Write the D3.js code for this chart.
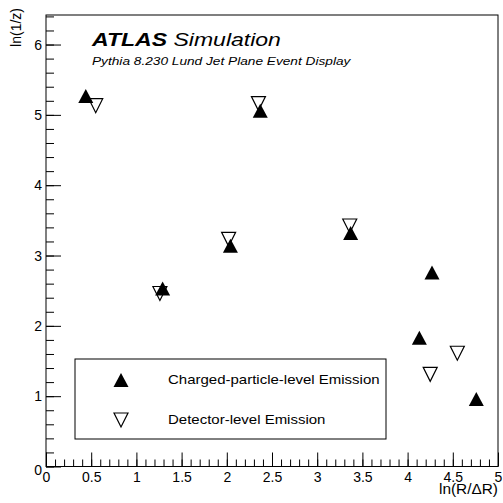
<!DOCTYPE html>
<html>
<head>
<meta charset="utf-8">
<script src="https://cdn.jsdelivr.net/npm/d3@7"></script>
<style>
  body { margin: 0; background: #fff; }
  text { font-family: "Liberation Sans", Arial, Helvetica, sans-serif; fill: #000; }
</style>
</head>
<body>
<svg width="503" height="503"></svg>
<script>
// charged-particle-level emissions (filled triangles up)
var chargedX = [0.44, 1.29, 2.04, 2.37, 3.37, 4.13, 4.27, 4.76];
var chargedY = [5.27, 2.53, 3.14, 5.06, 3.32, 1.83, 2.76, 0.96];
// detector-level emissions (open triangles down)
var detX = [0.55, 1.26, 2.02, 2.35, 3.36, 4.25, 4.55];
var detY = [5.13, 2.46, 3.23, 5.16, 3.42, 1.31, 1.61];

var xTicks = [0, 0.5, 1, 1.5, 2, 2.5, 3, 3.5, 4, 4.5, 5];
var yTicks = [0, 1, 2, 3, 4, 5, 6];
var legendLabels = ["Charged-particle-level Emission", "Detector-level Emission"];

var svg = d3.select("svg"),
    fL = 46, fR = 498, fT = 15, fB = 466.5;

var x = d3.scaleLinear().domain([0, 5]).range([fL, fR]);
var y = d3.scaleLinear().domain([0, 6.42]).range([fB, fT]);

var fmt = function(d) { return String(d); };

// minor ticks
svg.append("g")
    .attr("transform", "translate(0," + fB + ")")
    .call(d3.axisBottom(x).tickValues(d3.range(0, 50).map(function(i) { return i / 10; }))
        .tickSizeInner(-7).tickSizeOuter(0).tickFormat(""))
    .call(function(g) { g.select(".domain").remove(); });

svg.append("g")
    .attr("transform", "translate(" + fL + ",0)")
    .call(d3.axisLeft(y).tickValues(d3.range(0, 33).map(function(i) { return i / 5; }))
        .tickSizeInner(-8).tickSizeOuter(0).tickFormat(""))
    .call(function(g) { g.select(".domain").remove(); });

// major ticks + labels
var xa = svg.append("g")
    .attr("transform", "translate(0," + fB + ")")
    .call(d3.axisBottom(x).tickValues(xTicks).tickSizeInner(-14).tickSizeOuter(0)
        .tickPadding(6).tickFormat(fmt));
xa.select(".domain").remove();
xa.selectAll("text").attr("font-size", 14).attr("font-family", "Liberation Sans, Arial, sans-serif");

var ya = svg.append("g")
    .attr("transform", "translate(" + fL + ",0)")
    .call(d3.axisLeft(y).tickValues(yTicks).tickSizeInner(-15).tickSizeOuter(0)
        .tickPadding(4).tickFormat(fmt));
ya.select(".domain").remove();
ya.selectAll("text").attr("font-size", 14).attr("font-family", "Liberation Sans, Arial, sans-serif");
ya.selectAll(".tick").filter(function(d) { return d === 0; }).select("text").attr("dy", "0.6em");

svg.selectAll(".tick line").attr("stroke", "#000");

// frame
svg.append("rect")
    .attr("x", fL).attr("y", fT)
    .attr("width", fR - fL).attr("height", fB - fT)
    .attr("fill", "none").attr("stroke", "#000").attr("stroke-width", 1);

// axis titles
svg.append("text")
    .attr("transform", "translate(" + fR + ",494) scale(1.1,1)")
    .attr("text-anchor", "end")
    .attr("font-size", 14)
    .text("ln(R/\u0394R)");

svg.append("text")
    .attr("transform", "translate(21," + (fT - 7) + ") rotate(-90)")
    .attr("text-anchor", "end")
    .attr("font-size", 14)
    .text("ln(1/z)");

// ATLAS label
var t = svg.append("text")
    .attr("transform", "translate(92,46) scale(1.28,1)")
    .attr("font-size", 18);
t.append("tspan").attr("font-weight", "bold").attr("font-style", "italic").text("ATLAS");
t.append("tspan").attr("font-style", "italic").text(" Simulation");

svg.append("text")
    .attr("transform", "translate(92,65) scale(1.19,1)")
    .attr("font-size", 11.5)
    .attr("font-style", "italic")
    .text("Pythia 8.230 Lund Jet Plane Event Display");

function triUp(cx, cy) {
  return "M" + (cx - 7.5) + "," + (cy + 7) + "L" + (cx + 7.5) + "," + (cy + 7) + "L" + cx + "," + (cy - 7) + "Z";
}
function triDown(cx, cy) {
  return "M" + (cx - 7) + "," + (cy - 7) + "L" + (cx + 7) + "," + (cy - 7) + "L" + cx + "," + (cy + 7) + "Z";
}

var charged = chargedX.map(function(d, i) { return [d, chargedY[i]]; });
var det = detX.map(function(d, i) { return [d, detY[i]]; });

svg.append("g").selectAll("path")
    .data(det).enter().append("path")
    .attr("d", function(d) { return triDown(x(d[0]), y(d[1])); })
    .attr("fill", "none").attr("stroke", "#000").attr("stroke-width", 1.2);

svg.append("g").selectAll("path")
    .data(charged).enter().append("path")
    .attr("d", function(d) { return triUp(x(d[0]), y(d[1])); })
    .attr("fill", "#000");

// legend
svg.append("rect")
    .attr("x", 75).attr("y", 359).attr("width", 311).attr("height", 80)
    .attr("fill", "#fff").attr("stroke", "#000").attr("stroke-width", 1);

svg.append("path").attr("d", triUp(121, 380)).attr("fill", "#000");
svg.append("path").attr("d", triDown(121, 420))
    .attr("fill", "none").attr("stroke", "#000").attr("stroke-width", 1.2);

svg.selectAll(".leg").data(legendLabels).enter().append("text")
    .attr("class", "leg")
    .attr("transform", function(d, i) { return "translate(168," + (380 + i * 40) + ") scale(1.2,1)"; })
    .attr("dy", "0.35em")
    .attr("font-size", 12.5)
    .text(function(d) { return d; });
</script>
</body>
</html>
